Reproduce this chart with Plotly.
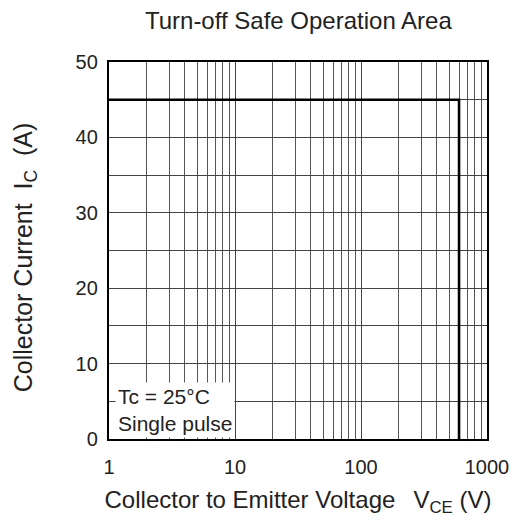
import plotly.graph_objects as go

# SOA boundary (Vce in V, Ic in A)
soa_vce = [1, 600, 600]
soa_ic = [45, 45, 0]

x_ticks = [1, 10, 100, 1000]
x_tick_labels = ["1", "10", "100", "1000"]
x_minor = [m * d for d in [1, 10, 100] for m in range(2, 10)]
y_ticks = [0, 10, 20, 30, 40, 50]

FONT = "Liberation Sans, Arial, sans-serif"
TXT = "#222"

fig = go.Figure()
fig.add_trace(go.Scatter(x=soa_vce, y=soa_ic, mode="lines",
                         line=dict(color="black", width=2.6),
                         showlegend=False, hoverinfo="skip"))

fig.update_layout(
    width=513, height=519,
    margin=dict(l=101, r=34, t=54, b=88),
    paper_bgcolor="white", plot_bgcolor="white",
    font=dict(family=FONT, color=TXT, size=20),
    title=dict(text="Turn-off Safe Operation Area", x=0.566, xanchor="center",
               yref="container", y=0.975, yanchor="middle",
               font=dict(size=24, family=FONT, color=TXT)),
    showlegend=False,
)
fig.update_xaxes(
    type="log", range=[0, 3],
    tickvals=x_ticks, ticktext=x_tick_labels,
    ticks="outside", ticklen=9, tickcolor="rgba(0,0,0,0)",
    showgrid=True, gridcolor="#444", gridwidth=1,
    minor=dict(tickvals=x_minor, showgrid=True, gridcolor="#555", gridwidth=1, ticks=""),
    showline=True, linecolor="black", linewidth=2.4, mirror=True,
    tickfont=dict(size=20, family=FONT, color=TXT),
    title=dict(text="Collector to Emitter Voltage &#8201; V<sub>CE</sub> (V)", standoff=14,
               font=dict(size=24, family=FONT, color=TXT)),
    zeroline=False,
)
fig.update_yaxes(
    range=[0, 50], tickvals=y_ticks,
    ticks="outside", ticklen=5, tickcolor="rgba(0,0,0,0)",
    showgrid=True, gridcolor="#444", gridwidth=1,
    minor=dict(dtick=5, showgrid=True, gridcolor="#444", gridwidth=1, ticks=""),
    showline=True, linecolor="black", linewidth=2.4, mirror=True,
    tickfont=dict(size=20, family=FONT, color=TXT),
    title=dict(text="Collector Current  I<sub>C</sub>  (A)&nbsp;&nbsp;", standoff=36,
               font=dict(size=25, family=FONT, color=TXT)),
    zeroline=False,
)
fig.add_annotation(
    xref="paper", yref="paper", x=0.016, y=0.003, xanchor="left", yanchor="bottom",
    text="Tc = 25°C<br>Single pulse", align="left", showarrow=False,
    bgcolor="white", borderpad=2,
    font=dict(size=21, family=FONT, color=TXT),
)

fig.write_html("out.html")
